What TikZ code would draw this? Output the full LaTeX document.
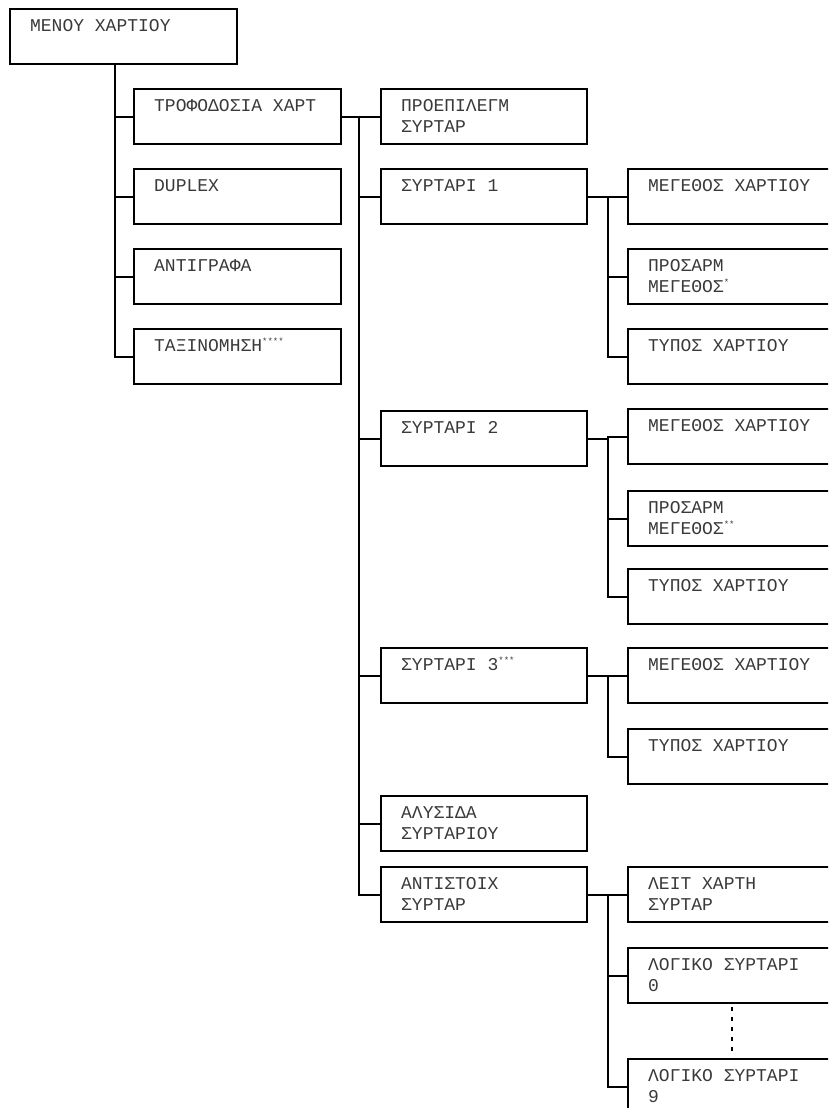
\documentclass[tikz,border=0pt]{standalone}
\usepackage{fontspec}
\newfontfamily\boxfont{Liberation Mono}
\definecolor{txt}{HTML}{3A3A3A}
\newcommand\bt[2]{\parbox[c][55pt][t]{#1}{\raggedright\leftskip=20pt\boxfont\fontsize{18}{21}\selectfont\color{txt}\rule{0pt}{22pt}#2}}
\newcommand\sast[1]{\raisebox{7pt}{\fontsize{9}{9}\selectfont #1}}
\tikzset{
  box/.style={draw=black, line width=2.3pt, anchor=north west, inner sep=0pt},
  conn/.style={draw=black, line width=2.3pt},
  dots/.style={draw=black, line width=2.3pt, dash pattern=on 4pt off 6pt}
}
\begin{document}
\begin{tikzpicture}[x=1pt,y=-1pt]
\useasboundingbox (0,0) rectangle (828,1108);
\clip (0,0) rectangle (828,1108);
\fill[white] (0,0) rectangle (828,1108);
% root
\node[box] (a) at (9,8) {\bt{227pt}{ΜΕΝΟΥ ΧΑΡΤΙΟΥ}};
% level 1
\node[box] (l1a) at (133,88) {\bt{207pt}{ΤΡΟΦΟΔΟΣΙΑ ΧΑΡΤ}};
\node[box] (l1b) at (133,168) {\bt{207pt}{DUPLEX}};
\node[box] (l1c) at (133,248) {\bt{207pt}{ΑΝΤΙΓΡΑΦΑ}};
\node[box] (l1d) at (133,328) {\bt{207pt}{ΤΑΞΙΝΟΜΗΣΗ\sast{****}}};
% level 2
\node[box] (l2a) at (380,88) {\bt{206pt}{ΠΡΟΕΠΙΛΕΓΜ\\ΣΥΡΤΑΡ}};
\node[box] (l2b) at (380,168) {\bt{206pt}{ΣΥΡΤΑΡΙ 1}};
\node[box] (l2c) at (380,410) {\bt{206pt}{ΣΥΡΤΑΡΙ 2}};
\node[box] (l2d) at (380,647) {\bt{206pt}{ΣΥΡΤΑΡΙ 3\sast{***}}};
\node[box] (l2e) at (380,795) {\bt{206pt}{ΑΛΥΣΙΔΑ\\ΣΥΡΤΑΡΙΟΥ}};
\node[box] (l2f) at (380,866) {\bt{206pt}{ΑΝΤΙΣΤΟΙΧ\\ΣΥΡΤΑΡ}};
% level 3
\node[box] (s1a) at (627,168) {\bt{240pt}{ΜΕΓΕΘΟΣ ΧΑΡΤΙΟΥ}};
\node[box] (s1b) at (627,248) {\bt{240pt}{ΠΡΟΣΑΡΜ\\ΜΕΓΕΘΟΣ\sast{*}}};
\node[box] (s1c) at (627,328) {\bt{240pt}{ΤΥΠΟΣ ΧΑΡΤΙΟΥ}};
\node[box] (s2a) at (627,408) {\bt{240pt}{ΜΕΓΕΘΟΣ ΧΑΡΤΙΟΥ}};
\node[box] (s2b) at (627,490) {\bt{240pt}{ΠΡΟΣΑΡΜ\\ΜΕΓΕΘΟΣ\sast{**}}};
\node[box] (s2c) at (627,568) {\bt{240pt}{ΤΥΠΟΣ ΧΑΡΤΙΟΥ}};
\node[box] (s3a) at (627,647) {\bt{240pt}{ΜΕΓΕΘΟΣ ΧΑΡΤΙΟΥ}};
\node[box] (s3b) at (627,728) {\bt{240pt}{ΤΥΠΟΣ ΧΑΡΤΙΟΥ}};
\node[box] (s4a) at (627,866) {\bt{240pt}{ΛΕΙΤ ΧΑΡΤΗ\\ΣΥΡΤΑΡ}};
\node[box] (s4b) at (627,947) {\bt{240pt}{ΛΟΓΙΚΟ ΣΥΡΤΑΡΙ\\0}};
\node[box] (s4c) at (627,1058) {\bt{240pt}{ΛΟΓΙΚΟ ΣΥΡΤΑΡΙ\\9}};
% trunk coordinates
\coordinate (t1) at (115,0);
\coordinate (t2) at (359,0);
\coordinate (t3) at (608,0);
% level 1 connectors
\draw[conn] (t1 |- a.south) |- (l1d.west);
\foreach \n in {l1a,l1b,l1c} \draw[conn] (t1 |- \n.west) -- (\n.west);
% level 2 connectors
\draw[conn] (l1a.east) -- (l2a.west);
\draw[conn] (t2 |- l1a.east) |- (l2f.west);
\foreach \n in {l2b,l2c,l2d,l2e} \draw[conn] (t2 |- \n.west) -- (\n.west);
% level 3 connectors
\draw[conn] (l2b.east) -- (s1a.west);
\draw[conn] (t3 |- l2b.east) |- (s1c.west);
\draw[conn] (t3 |- s1b.west) -- (s1b.west);
\draw[conn] (l2c.east) -- (t3 |- l2c.east);
\draw[conn] (t3 |- l2c.east) -- (t3 |- s2a.west) -- (s2a.west);
\draw[conn] (t3 |- s2a.west) |- (s2c.west);
\draw[conn] (t3 |- s2b.west) -- (s2b.west);
\draw[conn] (l2d.east) -- (s3a.west);
\draw[conn] (t3 |- l2d.east) |- (s3b.west);
\draw[conn] (l2f.east) -- (s4a.west);
\draw[conn] (t3 |- l2f.east) |- (s4c.west);
\draw[conn] (t3 |- s4b.west) -- (s4b.west);
% ellipsis dots
\coordinate (d1) at (732,1007);
\coordinate (d2) at (732,1054);
\draw[dots] (d1) -- (d2);
\end{tikzpicture}
\end{document}
